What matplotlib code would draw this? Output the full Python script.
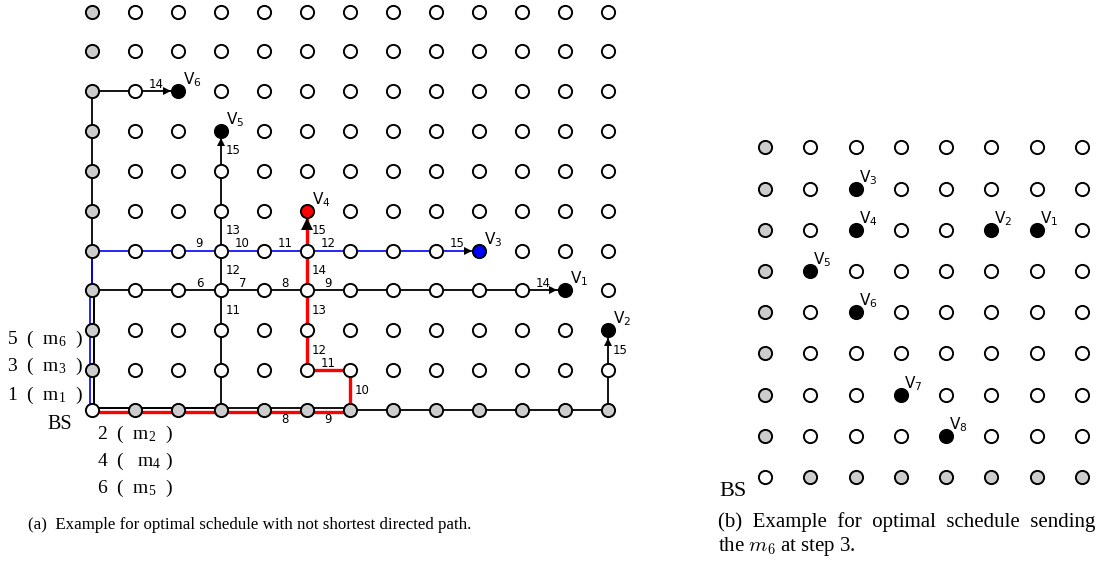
"""Grid schedule figure: (a) routes from BS with step labels, (b) destination layout."""
import matplotlib
matplotlib.use("Agg")
import matplotlib.pyplot as plt
from matplotlib.transforms import offset_copy

plt.rcParams["mathtext.default"] = "regular"

W, H, DPI = 1101, 567, 100
SERIF = "Liberation Serif"
SANS = "DejaVu Sans"

# ---------------------------------------------------------------- panel (a)
A_NCOLS, A_NROWS = 13, 11
A_DEST_NAMES = ["1", "2", "3", "4", "5", "6"]
A_DEST_COL = [11, 12, 9, 5, 3, 2]
A_DEST_ROW = [3, 2, 4, 5, 7, 8]

# routes from BS (0,0) given as turning points (col,row); first leg is the shared trunk
ROUTE_V1 = [(0, 0), (0, 3), (11, 3)]
ROUTE_V2 = [(0, 0), (6, 0), (12, 0), (12, 2)]
ROUTE_V3 = [(0, 0), (0, 3), (0, 4), (9, 4)]
ROUTE_V4 = [(0, 0), (6, 0), (6, 1), (5, 1), (5, 5)]
ROUTE_V5 = [(0, 0), (3, 0), (3, 7)]
ROUTE_V6 = [(0, 0), (0, 3), (0, 8), (2, 8)]

# step labels: (step, col, row) edge starting at node; h = to the right, v = upward
STEPS_H_ABOVE = [("14", 1, 8), ("9", 2, 4), ("10", 3, 4), ("11", 4, 4), ("12", 5, 4),
                 ("15", 8, 4), ("6", 2, 3), ("7", 3, 3), ("8", 4, 3), ("9", 5, 3),
                 ("14", 10, 3), ("11", 5, 1)]
STEPS_H_BELOW = [("8", 4, 0), ("9", 5, 0)]
STEPS_V_RIGHT = [("15", 3, 6), ("13", 3, 4), ("12", 3, 3), ("11", 3, 2),
                 ("15", 5, 4), ("14", 5, 3), ("13", 5, 2), ("12", 5, 1),
                 ("10", 6, 0), ("15", 12, 1)]

LEFT_LABELS = ["5  (  m$_6$  )", "3  (  m$_3$  )", "1  (  m$_1$  )"]
BOTTOM_LABELS = ["2  (  m$_2$  )", "4  (   m$_4$ )", "6  (  m$_5$  )"]

# ---------------------------------------------------------------- panel (b)
B_NCOLS, B_NROWS = 8, 9
B_DEST_NAMES = ["1", "2", "3", "4", "5", "6", "7", "8"]
B_DEST_COL = [6, 5, 2, 2, 1, 2, 3, 4]
B_DEST_ROW = [6, 6, 7, 6, 5, 4, 2, 1]

# ---------------------------------------------------------------- styles
GRAY = "#cccccc"
A_DEST_FILL = ["black", "black", "#0000ff", "#ff0000", "black", "black"]
ROUTES = [  # route, colour, width, trunk shift (px), head size
    (ROUTE_V5, "black", 1.3, (0, 2.2), 5.5),
    (ROUTE_V2, "black", 1.3, (0, 2.2), 5.5),
    (ROUTE_V1, "black", 1.3, (2.2, 0), 5.5),
    (ROUTE_V6, "black", 1.3, (2.2, 0), 5.5),
    (ROUTE_V3, "#0000ff", 1.2, (-2.0, 0), 5.5),
    (ROUTE_V4, "#ff0000", 2.4, (0, -2.0), 8.0),
]
NODE_MS, NODE_MEW = 9.5, 1.4

fig = plt.figure(figsize=(W / DPI, H / DPI), dpi=DPI)


def grid_axes(x0, sx, y0, sy):
    """axes over the whole figure, data unit = one grid step, node (0,0) at pixel (x0,y0)"""
    ax = fig.add_axes([0, 0, 1, 1])
    ax.set_xlim(-x0 / sx, (W - x0) / sx)
    ax.set_ylim(-(H - y0) / sy, y0 / sy)
    ax.axis("off")
    ax.patch.set_visible(False)
    return ax


def shifted(ax, dx, dy):
    return offset_copy(ax.transData, fig=fig, x=dx, y=dy, units="dots")


def draw_nodes(ax, ncols, nrows, dcols, drows, dfills):
    dest = set(zip(dcols, drows))
    white, gray = [], []
    for c in range(ncols):
        for r in range(nrows):
            if (c, r) in dest:
                continue
            if (c == 0) != (r == 0):
                gray.append((c, r))
            else:
                white.append((c, r))
    for pts, fc in ((white, "white"), (gray, GRAY)):
        ax.plot([p[0] for p in pts], [p[1] for p in pts], "o", ls="none", ms=NODE_MS,
                mfc=fc, mec="black", mew=NODE_MEW, zorder=4)
    for c, r, fc in zip(dcols, drows, dfills):
        ax.plot(c, r, "o", ms=NODE_MS, mfc=fc, mec="black", mew=NODE_MEW, zorder=4)


def draw_labels(ax, names, cols, rows, dx, dy):
    for n, c, r in zip(names, cols, rows):
        ax.text(c, r, "V$_{%s}$" % n, transform=shifted(ax, dx, dy), ha="left",
                va="bottom", fontsize=11, family=SANS, zorder=5)


def fig_text(x, y, s, **kw):
    fig.text(x / W, 1 - y / H, s, **kw)


# ---------------------------------------------------------------- draw (a)
ax_a = grid_axes(92, 42.98, 410, 39.85)

for route, color, lw, trunk, hs in ROUTES:
    for k in range(len(route) - 1):
        (c0, r0), (c1, r1) = route[k], route[k + 1]
        tr = shifted(ax_a, *trunk) if k == 0 else ax_a.transData
        ax_a.plot([c0, c1], [r0, r1], color=color, lw=lw, transform=tr,
                  solid_capstyle="butt", zorder=2)
    # arrow head into the destination node
    (c0, r0), (c1, r1) = route[-2], route[-1]
    ux = (c1 > c0) - (c1 < c0)
    uy = (r1 > r0) - (r1 < r0)
    back = 7.5 + hs * DPI / 72 / 2
    mk = {(1, 0): ">", (-1, 0): "<", (0, 1): "^", (0, -1): "v"}[(ux, uy)]
    ax_a.plot(c1, r1, mk, ms=hs, color="black", mew=0,
              transform=shifted(ax_a, -ux * back, -uy * back), zorder=3)

for s, c, r in STEPS_H_ABOVE:
    ax_a.text(c + 0.5, r, s, transform=shifted(ax_a, 0, 0.5), ha="center", va="bottom",
              fontsize=8.5, family=SANS, zorder=5)
for s, c, r in STEPS_H_BELOW:
    ax_a.text(c + 0.5, r, s, transform=shifted(ax_a, 0, -3), ha="center", va="top",
              fontsize=8.5, family=SANS, zorder=5)
for s, c, r in STEPS_V_RIGHT:
    ax_a.text(c, r + 0.5, s, transform=shifted(ax_a, 5, 0), ha="left", va="center",
              fontsize=8.5, family=SANS, zorder=5)

draw_nodes(ax_a, A_NCOLS, A_NROWS, A_DEST_COL, A_DEST_ROW, A_DEST_FILL)
draw_labels(ax_a, A_DEST_NAMES, A_DEST_COL, A_DEST_ROW, 5, 2)

for s, y in zip(LEFT_LABELS, [344, 371, 400]):
    fig_text(83, y, s, ha="right", va="baseline", fontsize=14, family=SERIF)
for s, y in zip(BOTTOM_LABELS, [439, 466, 493]):
    fig_text(97, y, s, ha="left", va="baseline", fontsize=14, family=SERIF)
fig_text(60, 429, "BS", ha="center", va="baseline", fontsize=14.5, family=SERIF)
fig_text(28, 529, "(a)  Example for optimal schedule with not shortest directed path.",
         ha="left", va="baseline", fontsize=12.2, family=SERIF)

# ---------------------------------------------------------------- draw (b)
ax_b = grid_axes(765, 45.26, 477, 41.2)
draw_nodes(ax_b, B_NCOLS, B_NROWS, B_DEST_COL, B_DEST_ROW, ["black"] * len(B_DEST_COL))
draw_labels(ax_b, B_DEST_NAMES, B_DEST_COL, B_DEST_ROW, 3, 2)

fig_text(733, 496, "BS", ha="center", va="baseline", fontsize=16, family=SERIF)
fig_text(718, 527, "(b)  Example  for  optimal  schedule  sending",
         ha="left", va="baseline", fontsize=15, family=SERIF)
fig_text(718, 551, r"the $\mathit{m}_\mathrm{6}$ at step 3.", ha="left", va="baseline",
         fontsize=15, family=SERIF, math_fontfamily="cm")

fig.savefig("out.png", dpi=DPI)
